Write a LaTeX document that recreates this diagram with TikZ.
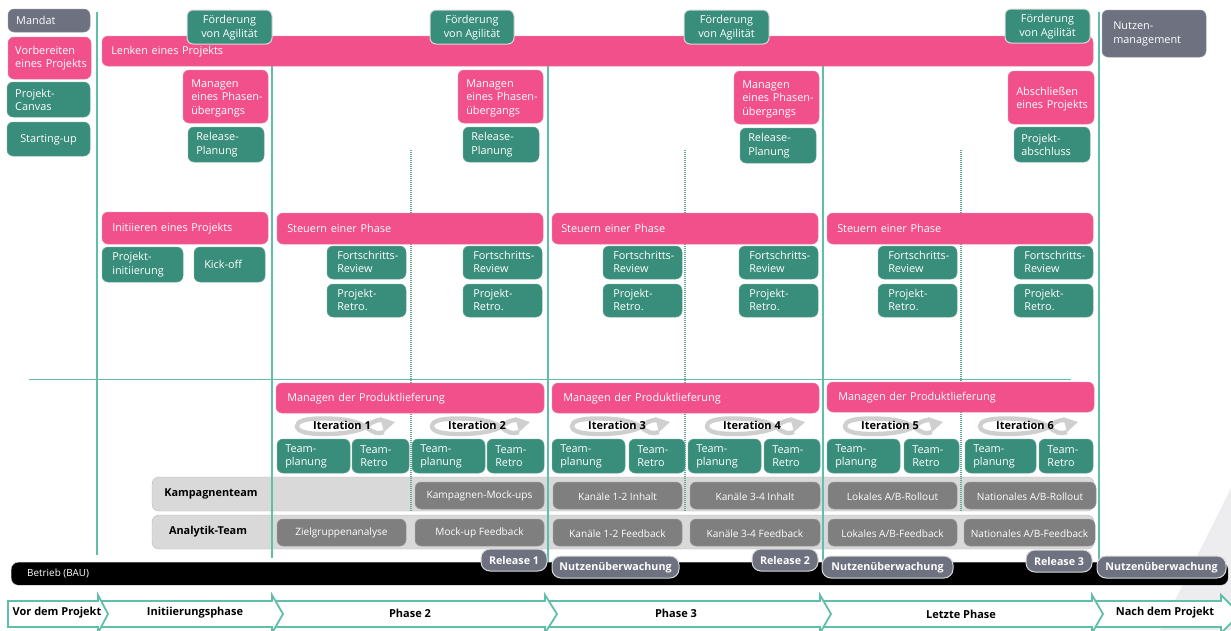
\documentclass[tikz,border=0pt]{standalone}
\usepackage{fontspec}
\setmainfont{Open Sans}
\definecolor{pinkbox}{HTML}{F2508A}
\definecolor{tealbox}{HTML}{388E7B}
\definecolor{slatebox}{HTML}{6E7180}
\definecolor{graybox}{HTML}{7F7F7F}
\definecolor{lane}{HTML}{D9D9D9}
\definecolor{tealline}{HTML}{5FBFA8}
\definecolor{wedge}{HTML}{EDEDEF}
\definecolor{iter}{HTML}{CFCFCF}
\tikzset{
  base/.style={rounded corners=6pt,draw=#1!70!lane,line width=.5pt,fill=#1,text=white,font=\fontsize{10.9}{13.5}\selectfont,inner sep=0pt},
  pinkb/.style={base=pinkbox},
  tealb/.style={base=tealbox},
  slateb/.style={base=slatebox},
  grayb/.style={base=graybox,font=\fontsize{10.1}{12}\selectfont},
  agil/.style={base=tealbox,draw=lane,line width=1pt},
  pill/.style={base=slatebox,draw=lane,line width=1pt,rounded corners=9pt,font=\fontsize{10.7}{12}\selectfont\bfseries},
  lanebox/.style={rounded corners=7pt,fill=lane,draw=lane!85!black,line width=.4pt},
  lanelab/.style={font=\fontsize{10.9}{12}\selectfont\bfseries,text=black,inner sep=0pt},
  vline/.style={draw=tealline,line width=1.8pt},
  thinv/.style={draw=tealline,line width=1.1pt},
  dotv/.style={draw=tealbox!80!white,line width=1.2pt,dash pattern=on 1pt off 1pt},
  chev/.style={draw=tealline,line width=1.8pt,fill=white,line join=miter},
  chevlab/.style={font=\fontsize{11}{12}\selectfont\bfseries,text=black,inner sep=0pt},
  iterribbon/.style={draw=iter,line width=4.4pt},
  iterlab/.style={font=\fontsize{11}{12}\selectfont\bfseries,text=black,inner sep=0pt},
}
\def\bxoff{0.2}
% name, style, x0,y0,x1,y1, left pad, text
\newcommand{\bxL}[8]{\path[#2] (#3,#4) rectangle (#5,#6);
  \pgfmathsetmacro{\tw}{#5-#3-#7}
  \node[#2,draw=none,fill=none,rounded corners=0pt,anchor=west,align=left,text width=\tw pt] (#1) at ({#3+#7},{(#4+#6)/2+\bxoff}) {#8};}
\newcommand{\bxC}[7]{\path[#2] (#3,#4) rectangle (#5,#6);
  \node[#2,draw=none,fill=none,rounded corners=0pt,align=center] (#1) at ({(#3+#5)/2},{(#4+#6)/2+.8}) {#7};}
\newcommand{\iterbadge}[3]{%
  \begin{scope}[shift={(#2,426)}]
    \path[iterribbon] (42,6) .. controls (36,9) and (30,6) .. (24,1) .. controls (14,-6) and (-2,-7.5) .. (-20,-7.5) .. controls (-36,-7.5) and (-45,-5) .. (-45,0) .. controls (-45,6) and (-34,8) .. (-18,8) .. controls (0,8) and (14,6) .. (24,1) .. controls (29,-3) and (32,-6) .. (40,-6);
    \path[fill=iter] (38,-9) -- (53,-4) -- (42,6) -- cycle;
  \end{scope}
  \node[iterlab] (#1) at (#2,425.5) {#3};}
\begin{document}
\begin{tikzpicture}[x=1pt,y=-1pt]
\useasboundingbox (0,0) rectangle (1231,630);
\clip (0,0) rectangle (1231,630);
\fill[wedge] (1231,488) -- (1231,630) -- (1160,630) -- cycle;

% vertical lines
\foreach \n/\x/\a/\b in {a/97/12/555,b/272/40/558,c/548/40/565,d/823/40/565,e/1099/12/565}{
  \coordinate (t\n) at (\x,\a); \coordinate (u\n) at (\x,\b);}
\foreach \n/\x in {a/411,b/685,c/961}{
  \coordinate (dt\n) at (\x,150); \coordinate (du\n) at (\x,512);}
\coordinate (hl) at (29,379.5); \coordinate (hr) at (1071,379.5);

% swimlanes
\path[lanebox] (152,477) rectangle (1094,511);
\path[lanebox] (152,515) rectangle (1094,549);
\node[lanelab] (kamp) at (211,494) {Kampagnenteam};
\node[lanelab] (anal) at (208,532) {Analytik-Team};

\draw[dotv] (dta) -- (dua); \draw[dotv] (dtb) -- (dub); \draw[dotv] (dtc) -- (duc);
\draw[thinv] (tb) -- (ub); \draw[thinv] (tc) -- (uc); \draw[thinv] (td) -- (ud);
\draw[thinv] (hl) -- (hr);

% black bar
\node[rounded corners=7pt,fill=black,draw=lane,line width=.4pt,minimum width=1217pt,minimum height=23pt,inner sep=0pt,anchor=north west] (bau) at (11,562) {};
\node[text=white,inner sep=0pt,anchor=west,font=\fontsize{9.9}{11}\selectfont] (baul) at (27,573.5) {Betrieb (BAU)};

\draw[vline] (ta) -- (ua); \draw[vline] (te) -- (ue);

% left column
\bxL{mandat}{slateb}{8}{9}{90}{32}{8}{Mandat}
\bxL{vorb}{pinkb}{8}{37}{91}{79}{7}{Vorbereiten\\eines Projekts}
\bxL{canvas}{tealb}{7}{82}{90}{117}{8}{Projekt-\\Canvas}
\bxC{start}{tealb}{7}{122}{90}{156}{Starting-up}

% Lenken + Agility
\bxL{lenken}{pinkb}{102}{36}{1093}{66}{9}{Lenken eines Projekts}
\bxC{ag1}{agil}{187}{10}{272}{44}{Förderung\\von Agilität}
\bxC{ag2}{agil}{430}{10}{514}{44}{Förderung\\von Agilität}
\bxC{ag3}{agil}{684}{10}{769}{44}{Förderung\\von Agilität}
\bxC{ag4}{agil}{1005}{9}{1090}{43}{Förderung\\von Agilität}
\bxL{nutzen}{slateb}{1102}{10}{1206}{57}{11}{Nutzen-\\management}

% phase transitions
\def\bxoff{1.6}
\bxL{mp1}{pinkb}{183}{70}{268}{123}{8}{Managen\\eines Phasen-\\übergangs}
\bxL{mp2}{pinkb}{458}{70}{543}{123}{8}{Managen\\eines Phasen-\\übergangs}
\bxL{mp3}{pinkb}{734}{71}{819}{124}{8}{Managen\\eines Phasen-\\übergangs}
\bxL{absch}{pinkb}{1008}{71}{1094}{124}{8}{Abschließen\\eines Projekts}
\def\bxoff{0.2}
\bxL{rp1}{tealb}{188}{127}{264}{162}{8}{Release-\\Planung}
\bxL{rp2}{tealb}{463}{127}{539}{162}{8}{Release-\\Planung}
\bxL{rp3}{tealb}{740}{128}{816}{163}{8}{Release-\\Planung}
\bxL{pabs}{tealb}{1014}{127}{1090}{162}{7}{Projekt-\\abschluss}

% initiating / controlling
\bxL{init}{pinkb}{102}{212}{268}{244}{10}{Initiieren eines Projekts}
\bxL{pini}{tealb}{102}{247}{183}{282}{10}{Projekt-\\initiierung}
\bxL{kick}{tealb}{194}{247}{265}{282}{10}{Kick-off}
\bxL{st1}{pinkb}{277}{213}{543}{244}{10}{Steuern einer Phase}
\bxL{st2}{pinkb}{552}{213}{818}{244}{9}{Steuern einer Phase}
\bxL{st3}{pinkb}{827}{213}{1093}{244}{10}{Steuern einer Phase}
\def\bxoff{-0.8}
\foreach \i/\a/\b in {1/327/406,2/463/542,3/603/682,4/739/818,5/878/957,6/1014/1093}{
  \bxL{fr\i}{tealb}{\a}{246}{\b}{279}{10}{Fortschritts-\\Review}
  \bxL{pr\i}{tealb}{\a}{284}{\b}{317}{10}{Projekt-\\Retro.}
}
\def\bxoff{0.2}

% product delivery
\bxL{pl1}{pinkb}{276}{383}{544}{413}{11}{Managen der Produktlieferung}
\bxL{pl2}{pinkb}{552}{383}{819}{413}{11}{Managen der Produktlieferung}
\bxL{pl3}{pinkb}{827}{382}{1094}{412}{11}{Managen der Produktlieferung}
\iterbadge{it1}{342}{Iteration 1}
\iterbadge{it2}{477}{Iteration 2}
\iterbadge{it3}{617}{Iteration 3}
\iterbadge{it4}{752}{Iteration 4}
\iterbadge{it5}{890}{Iteration 5}
\iterbadge{it6}{1025}{Iteration 6}
\foreach \i/\a/\b/\c/\d in {1/277/350/352/409,2/412/485/487/544,3/552/625/629/685,4/688/761/764/820,5/827/900/904/959,6/965/1036/1039/1093}{
  \bxL{tp\i}{tealb}{\a}{439}{\b}{473}{8}{Team-\\planung}
  \bxL{tr\i}{tealb}{\c}{439}{\d}{473}{8}{Team-\\Retro}
}

% work packages
\bxC{w1}{grayb}{415}{482}{544}{509}{Kampagnen-Mock-ups}
\bxC{w2}{grayb}{553}{482}{682}{509}{Kanäle 1-2 Inhalt}
\bxC{w3}{grayb}{690}{482}{820}{509}{Kanäle 3-4 Inhalt}
\bxC{w4}{grayb}{828}{482}{957}{509}{Lokales A/B-Rollout}
\bxC{w5}{grayb}{964}{482}{1096}{509}{Nationales A/B-Rollout}
\bxC{f0}{grayb}{277}{519}{406}{546}{Zielgruppenanalyse}
\bxC{f1}{grayb}{415}{519}{544}{546}{Mock-up Feedback}
\bxC{f2}{grayb}{553}{519}{682}{546}{Kanäle 1-2 Feedback}
\bxC{f3}{grayb}{690}{519}{820}{546}{Kanäle 3-4 Feedback}
\bxC{f4}{grayb}{828}{519}{957}{546}{Lokales A/B-Feedback}
\bxC{f5}{grayb}{964}{519}{1095}{546}{Nationales A/B-Feedback}

% releases
\bxC{r1}{pill}{481}{549}{547}{571}{Release 1}
\bxC{r2}{pill}{752}{549}{818}{571}{Release 2}
\bxC{r3}{pill}{1026}{550}{1092}{572}{Release 3}
\bxC{n1}{pill}{552}{556}{679}{578}{Nutzenüberwachung}
\bxC{n2}{pill}{822}{556}{953}{578}{Nutzenüberwachung}
\bxC{n3}{pill}{1097}{556}{1226}{578}{Nutzenüberwachung}

% phases
\foreach \pp/\bb/\tt in {1092/1221/1240,820/1092/1103,545/820/831,272/545/557,98/272/283}{
  \path[chev] (\pp,601) -- (\bb,601) -- (\bb,595) -- (\tt,614) -- (\bb,633) -- (\bb,627) -- (\pp,627);
}
\path[chev] (8,601) -- (98,601) -- (98,595) -- (108,614) -- (98,633) -- (98,627) -- (8,627) -- cycle;
\node[chevlab] (c0) at (57,613) {Vor dem Projekt};
\node[chevlab] (c1) at (195,613) {Initiierungsphase};
\node[chevlab] (c2) at (410,613) {Phase 2};
\node[chevlab] (c3) at (676,613) {Phase 3};
\node[chevlab] (c4) at (961,614) {Letzte Phase};
\node[chevlab] (c5) at (1165,613) {Nach dem Projekt};
\end{tikzpicture}
\end{document}
